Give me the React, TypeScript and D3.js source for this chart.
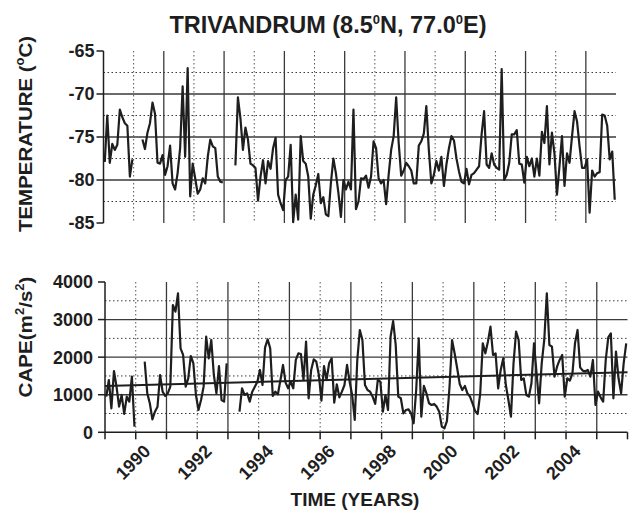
import React from 'react';
import * as d3 from 'd3';

// ---------- DATA ----------
const startYear = 1989;
const endYear = 2006;
const yearLabels = [1990, 1992, 1994, 1996, 1998, 2000, 2002, 2004];

// Monthly 100 hPa temperature (°C), Jan 1989 .. Dec 2005 (null = missing)
const temperature: (number | null)[] = [
  // 1989
  -77.9, -72.5, -78.0, -75.8, -76.5, -75.9, -71.8, -72.7, -73.4, -73.7, -79.6, -77.6,
  // 1990
  null, null, null, -75.3, -76.4, -74.5, -73.4, -71.0, -72.3, -78.0, -78.1, -77.1,
  // 1991
  -79.4, -78.4, -76.0, -80.4, -81.1, -79.2, -76.3, -69.1, -77.3, -67.0, -81.9, -78.1,
  -79.8, -81.6, -81.1, -79.8, -80.4, -77.3, -75.3, -76.1, -76.3, -79.6, -80.2, -80.3,
  // 1992
  null, null, null, null, -78.3, -70.4, -72.8, -76.5, -73.9, -75.3, -78.1, -78.3,
  // 1993
  -78.6, -82.4, -79.6, -77.7, -80.4, -77.8, -78.7, -76.3, -75.1, -81.7, -82.7, -83.5,
  // 1994
  -80.0, -79.6, -75.9, -84.9, -81.7, -84.6, -74.9, -77.8, -78.1, -79.6, -84.5, -81.7,
  // 1995
  -80.6, -79.3, -82.7, -82.0, -84.0, -84.2, -80.4, -77.5, -79.2, -81.5, -84.3, -80.0,
  // 1996
  -81.1, -80.2, -81.1, -71.8, -83.4, -82.5, -79.8, -79.9, -79.5, -80.9, -79.6, -75.5,
  // 1997
  -76.3, -79.8, -80.4, -80.0, -82.8, -79.4, -76.5, -74.9, -70.4, -75.7, -79.5, -78.9,
  // 1998
  -78.0, -78.4, -78.9, -80.4, -80.4, -76.0, -75.5, -74.6, -71.4, -76.5, -80.4, -79.4,
  // 1999
  -77.8, -78.9, -77.3, -80.7, -78.2, -76.3, -74.9, -75.4, -77.5, -79.0, -80.2, -80.4,
  // 2000
  -78.7, -80.5, -79.4, -79.2, -78.8, -78.4, -74.7, -72.0, -78.2, -78.6, -76.9, -78.2,
  // 2001
  -78.6, -78.8, -67.1, -80.0, -79.4, -78.0, -74.7, -74.7, -74.2, -78.1, -78.2, -80.3,
  // 2002
  -77.3, -78.4, -77.5, -79.6, -77.5, -79.5, -74.4, -75.7, -71.4, -78.2, -74.5, -76.9,
  // 2003
  -81.7, -78.4, -74.9, -80.7, -76.9, -78.0, -74.9, -72.0, -73.2, -76.1, -78.6, -78.6,
  // 2004
  -77.6, -83.8, -78.9, -79.6, -79.2, -79.1, -72.4, -72.5, -73.7, -77.6, -76.7, -82.3,
];

// Monthly CAPE (m2/s2), Jan 1989 .. Dec 2005 (null = missing)
const cape: (number | null)[] = [
  949, 1392, 639, 1632, 1215, 683, 993, 488, 949, 816, 1481, 151,
  null, null, null, 1880, 1038, 772, 346, 550, 683, 1525, 1082, 967,
  1038, 1215, 3388, 3210, 3698, 2235, 2058, 1215, 1437, 2031, 1836, 993,
  594, 860, 1215, 2545, 1969, 2457, 1525, 1038, 1765, 860, 816, 1836,
  null, null, null, null, 550, 1171, 993, 1038, 816, 1082, 1215, 1348,
  1659, 1259, 2262, 2474, 2235, 967, 1082, 1011, 1392, 1792, 1321, 1171,
  1348, 1171, 1925, 2102, 2084, 1392, 2412, 905, 1659, 1942, 1880, 1525,
  843, 1765, 1392, 1836, 1969, 789, 1277, 931, 1082, 1259, 1792, 1348,
  993, 328, 1925, 2723, 2457, 1259, 1126, 1082, 949, 754, 1392, 1348,
  550, 993, 594, 2545, 2962, 2324, 949, 905, 505, 594, 612, 505,
  240, 1126, 2501, 417, 1233, 1038, 772, 727, 754, 683, 550, 151,
  106, 300, 1200, 2457, 2102, 1703, 1286, 1126, 1233, 1038, 949, 772,
  568, 488, 1038, 2368, 2102, 2412, 2812, 2058, 2102, 1171, 1659, 1969,
  1259, 860, 417, 1836, 2678, 2457, 1392, 1437, 993, 949, 1304, 2368,
  1570, 772, 1836, 2457, 3698, 2324, 2279, 1481, 1747, 1925, 2058, 949,
  1437, 1375, 1570, 2368, 2723, 1730, 1641, 1623, 1659, 1481, 1925, 727,
  1082, 931, 816, 1925, 2528, 2634, 905, 2146, 1437, 1038, 1836, 2368,
];

// Linear trend of CAPE (value at start, value at end)
const capeTrend = [1230, 1600];

const tempTicks = [-65, -70, -75, -80, -85];
const tempSolidGrid = [-70, -75, -80];
const tempDotGrid = [-67.5, -72.5, -77.5, -82.5];
const capeTicks = [0, 1000, 2000, 3000, 4000];
const capeSolidGrid = [1000, 2000, 3000];
const capeDotGrid = [500, 1500, 2500, 3500];

// ---------- CHART ----------
const FONT = '"Liberation Sans", Arial, Helvetica, sans-serif';
const INK = '#1e1e1e';
const GRID = '#3a3a3a';

export default function App() {
  const xT = d3.scaleLinear().domain([startYear, endYear]).range([103.5, 616]);
  const yT = d3.scaleLinear().domain([-85, -65]).range([223, 51]);
  const xB = d3.scaleLinear().domain([startYear, endYear]).range([105, 627.5]);
  const yB = d3.scaleLinear().domain([0, 4000]).range([432.3, 282]);

  const t = (i: number) => startYear + (i + 0.5) / 12;

  const tempLine = d3
    .line<number | null>()
    .defined((d) => d != null)
    .x((_, i) => xT(t(i)))
    .y((d) => yT(d as number));
  const capeLine = d3
    .line<number | null>()
    .defined((d) => d != null)
    .x((_, i) => xB(t(i)))
    .y((d) => yB(d as number));

  const gridYears = d3.range(startYear + 1, endYear);
  const allYears = d3.range(startYear, endYear + 1);

  return (
    <svg
      width={631}
      height={511}
      style={{ position: 'absolute', left: 0, top: 0, background: '#fff' }}
      fontFamily={FONT}
      fontWeight="bold"
    >
      <rect width={631} height={511} fill="#fff" />
      {/* Title */}
      <text x={328} y={33} textAnchor="middle" fontSize={23.5} fill={INK}>
        TRIVANDRUM (8.5<tspan dy={-9} fontSize={13}>0</tspan>
        <tspan dy={9}>N, 77.0</tspan>
        <tspan dy={-9} fontSize={13}>0</tspan>
        <tspan dy={9}>E)</tspan>
      </text>

      {/* ---------- Top panel ---------- */}
      <g>
        {tempDotGrid.map((v) => (
          <line key={'td' + v} x1={xT.range()[0]} x2={xT.range()[1]} y1={yT(v)} y2={yT(v)} stroke={GRID} strokeWidth={1} strokeDasharray="1.5,2.5" />
        ))}
        {tempSolidGrid.map((v) => (
          <line key={'ts' + v} x1={xT.range()[0]} x2={xT.range()[1]} y1={yT(v)} y2={yT(v)} stroke={GRID} strokeWidth={1.3} />
        ))}
        {gridYears.map((y) => (
          <line
            key={'tv' + y}
            x1={xT(y)}
            x2={xT(y)}
            y1={yT(-65)}
            y2={yT(-85)}
            stroke={y % 2 === 1 ? GRID : '#555'}
            strokeWidth={y % 2 === 1 ? 1.3 : 1}
            strokeDasharray={y % 2 === 1 ? undefined : '1.5,2.5'}
          />
        ))}
        <path d={tempLine(temperature) || ''} fill="none" stroke={INK} strokeWidth={2.2} strokeLinejoin="round" />
        {/* y axis */}
        <line x1={xT.range()[0]} x2={xT.range()[0]} y1={yT(-65)} y2={yT(-85)} stroke={INK} strokeWidth={1.5} />
        {tempTicks.map((v) => (
          <g key={'tt' + v}>
            <line x1={xT.range()[0] - 7} x2={xT.range()[0]} y1={yT(v)} y2={yT(v)} stroke={INK} strokeWidth={1.5} />
            <text x={xT.range()[0] - 9} y={yT(v)} dy="0.36em" textAnchor="end" fontSize={18} fill={INK}>
              {v}
            </text>
          </g>
        ))}
        <text transform="translate(32,134) rotate(-90)" textAnchor="middle" fontSize={19} fill={INK} textLength={196} lengthAdjust="spacingAndGlyphs">
          TEMPERATURE (<tspan dy={-8} fontSize={12}>o</tspan>
          <tspan dy={8}>C)</tspan>
        </text>
      </g>

      {/* ---------- Bottom panel ---------- */}
      <g>
        {capeDotGrid.map((v) => (
          <line key={'cd' + v} x1={xB.range()[0]} x2={xB.range()[1]} y1={yB(v)} y2={yB(v)} stroke={GRID} strokeWidth={1} strokeDasharray="1.5,2.5" />
        ))}
        {capeSolidGrid.map((v) => (
          <line key={'cs' + v} x1={xB.range()[0]} x2={xB.range()[1]} y1={yB(v)} y2={yB(v)} stroke={GRID} strokeWidth={1.3} />
        ))}
        {gridYears.map((y) => (
          <line
            key={'cv' + y}
            x1={xB(y)}
            x2={xB(y)}
            y1={yB(4000)}
            y2={yB(0)}
            stroke={y % 2 === 1 ? GRID : '#555'}
            strokeWidth={y % 2 === 1 ? 1.3 : 1}
            strokeDasharray={y % 2 === 1 ? undefined : '1.5,2.5'}
          />
        ))}
        <path d={capeLine(cape) || ''} fill="none" stroke={INK} strokeWidth={2.2} strokeLinejoin="round" />
        <line
          x1={xB(startYear)}
          x2={xB(endYear)}
          y1={yB(capeTrend[0])}
          y2={yB(capeTrend[1])}
          stroke={INK}
          strokeWidth={2}
        />
        {/* axes */}
        <line x1={xB.range()[0]} x2={xB.range()[0]} y1={yB(4000)} y2={yB(0)} stroke={INK} strokeWidth={1.5} />
        <line x1={xB.range()[0]} x2={xB.range()[1]} y1={yB(0)} y2={yB(0)} stroke={INK} strokeWidth={1.5} />
        {capeTicks.map((v) => (
          <g key={'ct' + v}>
            <line x1={xB.range()[0] - 7} x2={xB.range()[0]} y1={yB(v)} y2={yB(v)} stroke={INK} strokeWidth={1.5} />
            <text x={xB.range()[0] - 12} y={yB(v)} dy="0.36em" textAnchor="end" fontSize={18} fill={INK}>
              {v}
            </text>
          </g>
        ))}
        {allYears.map((y) => (
          <line key={'xt' + y} x1={xB(y)} x2={xB(y)} y1={yB(0)} y2={yB(0) + 7} stroke={INK} strokeWidth={1.5} />
        ))}
        {yearLabels.map((y) => (
          <text
            key={'xl' + y}
            transform={`translate(${xB(y) - 3},462) rotate(-45)`}
            textAnchor="middle"
            dy="0.36em"
            fontSize={18}
            fill={INK}
          >
            {y}
          </text>
        ))}
        <text transform="translate(32,337) rotate(-90)" textAnchor="middle" fontSize={19} fill={INK} textLength={121} lengthAdjust="spacingAndGlyphs">
          CAPE(m<tspan dy={-8} fontSize={12}>2</tspan>
          <tspan dy={8}>/s</tspan>
          <tspan dy={-8} fontSize={12}>2</tspan>
          <tspan dy={8}>)</tspan>
        </text>
        <text x={355} y={506} textAnchor="middle" fontSize={19} fill={INK}>
          TIME (YEARS)
        </text>
      </g>
    </svg>
  );
}
